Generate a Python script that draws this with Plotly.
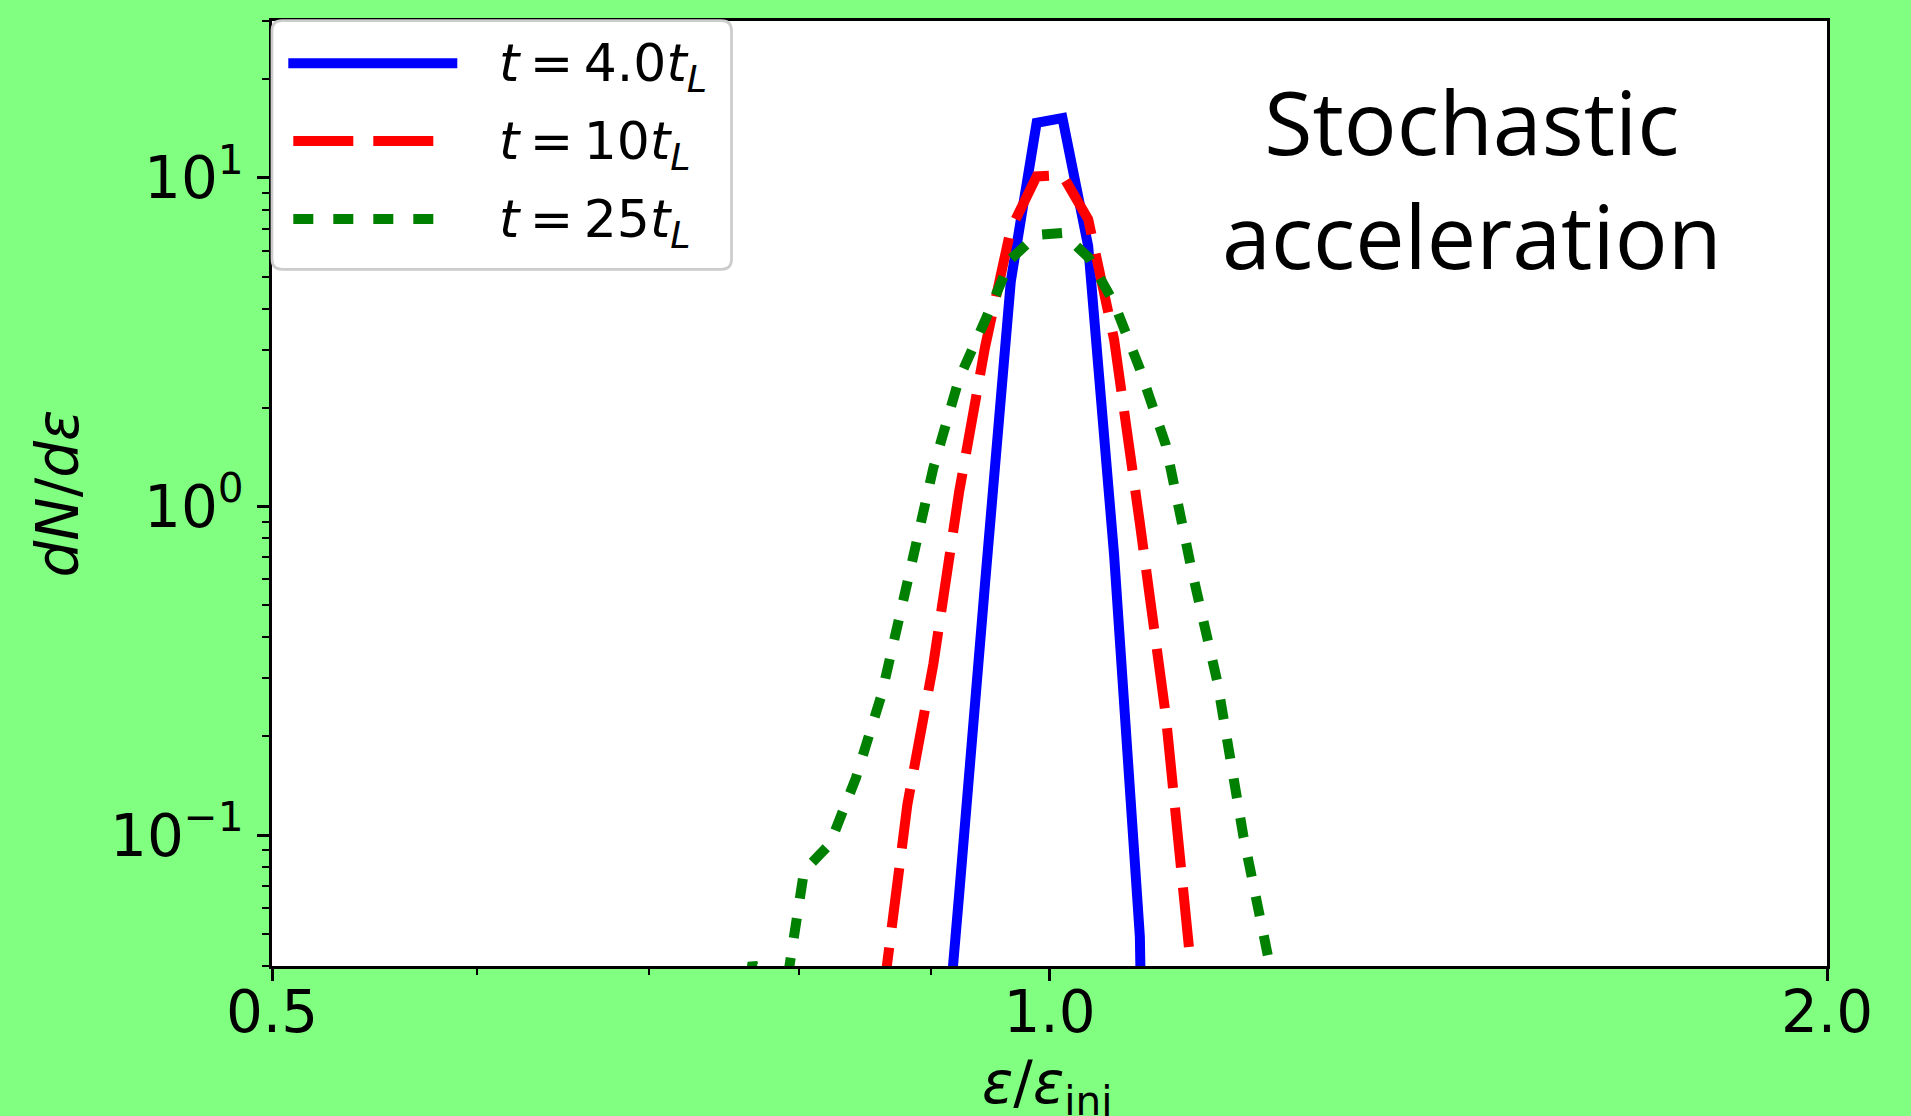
import math
import plotly.graph_objects as go

# ---------------- data ----------------
# energy bin centres, eps/eps_inj
energy = [0.7499, 0.7674, 0.7852, 0.8035, 0.8222, 0.8414, 0.8610, 0.8810,
          0.9016, 0.9226, 0.9441, 0.9661, 0.9886, 1.0116, 1.0351, 1.0593,
          1.0839, 1.1092, 1.1350, 1.1614, 1.1885, 1.2162, 1.2445]

# dN/deps for each time (None = no sample, 0 = empty bin)
dn_t4 = [None, None, None, None, None, None, None, None,
         0.008, 0.066, 0.58, 4.85, 14.7, 15.2, 6.19, 0.71,
         0.049, 0, None, None, None, None, None]
dn_t10 = [None, None, None, None, None, None, 0.030, 0.124,
          0.331, 1.108, 3.05, 6.98, 10.1, 10.2, 7.48, 3.22,
          0.889, 0.232, 0.038, 0, None, None, None]
dn_t25 = [0.012, 0.041, 0.024, 0.078, 0.094, 0.149, 0.268, 0.588,
          1.31, 2.45, 3.67, 5.66, 6.7, 6.8, 5.74, 4.16,
          2.62, 1.54, 0.644, 0.293, 0.100, 0.0413, 0]

TS = "\u2009"  # thin space, as in math typesetting around '='
series_labels = [f"<i>t</i>{TS}={TS}4.0<i>t</i><sub><i>L</i></sub>",
                 f"<i>t</i>{TS}={TS}10<i>t</i><sub><i>L</i></sub>",
                 f"<i>t</i>{TS}={TS}25<i>t</i><sub><i>L</i></sub>"]
series_colors = ["#0000ff", "#ff0000", "#008000"]
series_dash = ["solid", "60px,20px", "20px,20px"]

x_tickvals = [0.5, 1.0, 2.0]
x_ticktext = ["0.5", "1.0", "2.0"]
x_minor = [0.6, 0.7, 0.8, 0.9]
y_tickvals = [0.1, 1, 10]
y_ticktext = ["10<sup>\u22121</sup>", "10<sup>0</sup>", "10<sup>1</sup>"]
y_minor = [m * 10.0 ** e for e in (-2, -1, 0, 1) for m in range(2, 10)]

# like matplotlib's log-scale clipping of non-positive values
FLOOR = 1e-6
def clip(vals):
    return [None if v is None else (v if v > 0 else FLOOR) for v in vals]

# ---------------- figure ----------------
W, H = 1911, 1116
L, R, T, B = 272, 84, 21, 150
PW, PH = W - L - R, H - T - B

def px_x(px):
    return (px - L) / PW

def px_y(py):
    return (H - B - py) / PH

fig = go.Figure()
for ys, name, col, dash in zip([dn_t4, dn_t10, dn_t25], series_labels,
                               series_colors, series_dash):
    fig.add_trace(go.Scatter(x=energy, y=clip(ys), mode="lines", name=name,
                             line=dict(color=col, width=10, dash=dash,
                                       simplify=False),
                             connectgaps=False, showlegend=False))

FONT = "DejaVu Sans"
axis_common = dict(type="log", showgrid=False, zeroline=False,
                   showline=True, linecolor="black", linewidth=2.5,
                   mirror=True, ticks="outside", ticklen=12, tickwidth=2.5,
                   tickcolor="black",
                   tickfont=dict(family=FONT, size=58, color="black"))

fig.update_layout(
    width=W, height=H,
    margin=dict(l=L, r=R, t=T, b=B, autoexpand=False),
    paper_bgcolor="#80ff80", plot_bgcolor="white",
    showlegend=False,
    xaxis=dict(range=[math.log10(0.5), math.log10(2.0)],
               tickmode="array", tickvals=x_tickvals, ticktext=x_ticktext,
               ticklabelstandoff=-18,
               minor=dict(tickmode="array", tickvals=x_minor, ticks="outside",
                          ticklen=6, tickwidth=2, tickcolor="black",
                          showgrid=False),
               automargin=False,
               **axis_common),
    yaxis=dict(range=[math.log10(0.04), math.log10(30)],
               tickmode="array", tickvals=y_tickvals, ticktext=y_ticktext,
               ticklabelstandoff=2,
               minor=dict(tickmode="array", tickvals=y_minor, ticks="outside",
                          ticklen=7, tickwidth=2, tickcolor="black",
                          showgrid=False),
               title=dict(text="<i>dN</i>/<i>d\u03b5</i>",
                          font=dict(family=FONT, size=58, color="black"),
                          standoff=13),
               automargin=False,
               **axis_common),
)

# x-axis label (placed as an annotation so it may sit partly past the edge)
fig.add_annotation(x=px_x(1047), y=px_y(1087), xref="paper", yref="paper",
                   xanchor="center", yanchor="middle",
                   text="<i>\u03b5</i>/<i>\u03b5</i><sub>inj</sub>",
                   showarrow=False,
                   font=dict(family=FONT, size=58, color="black"))

# ---------------- legend (drawn as decoration) ----------------
bx0, bx1, by0, by1, rad = 272, 731.5, 20.7, 269.3, 10
rx, ry = rad / PW, rad / PH
X0, X1, YT, YB = px_x(bx0), px_x(bx1), px_y(by0), px_y(by1)
path = (f"M{X0+rx},{YT} L{X1-rx},{YT} Q{X1},{YT} {X1},{YT-ry} "
        f"L{X1},{YB+ry} Q{X1},{YB} {X1-rx},{YB} L{X0+rx},{YB} "
        f"Q{X0},{YB} {X0},{YB+ry} L{X0},{YT-ry} Q{X0},{YT} {X0+rx},{YT} Z")
fig.add_shape(type="path", path=path, xref="paper", yref="paper",
              fillcolor="rgba(255,255,255,0.8)",
              line=dict(color="#cccccc", width=2.7), layer="above")

rows_y = [63.3, 141.0, 219.0]
seg = [(288.3, 457.3), (293.3, 452.3), (293.3, 452.3)]
for ry_px, (sx0, sx1), col, dash, lab in zip(rows_y, seg, series_colors,
                                              series_dash, series_labels):
    fig.add_shape(type="line", xref="paper", yref="paper",
                  x0=px_x(sx0), x1=px_x(sx1), y0=px_y(ry_px), y1=px_y(ry_px),
                  line=dict(color=col, width=10, dash=dash), layer="above")
    fig.add_annotation(x=px_x(496.7), y=px_y(ry_px + 4), xref="paper",
                       yref="paper", xanchor="left", yanchor="middle",
                       text=lab, showarrow=False,
                       font=dict(family=FONT, size=52, color="black"))

# ---------------- in-panel label ----------------
fig.add_annotation(x=px_x(1472), y=px_y(177.5), xref="paper", yref="paper",
                   xanchor="center", yanchor="middle",
                   text="Stochastic<br>acceleration", align="center",
                   showarrow=False,
                   font=dict(family="Open Sans", size=88, color="black"))

fig.write_html("out.html")
